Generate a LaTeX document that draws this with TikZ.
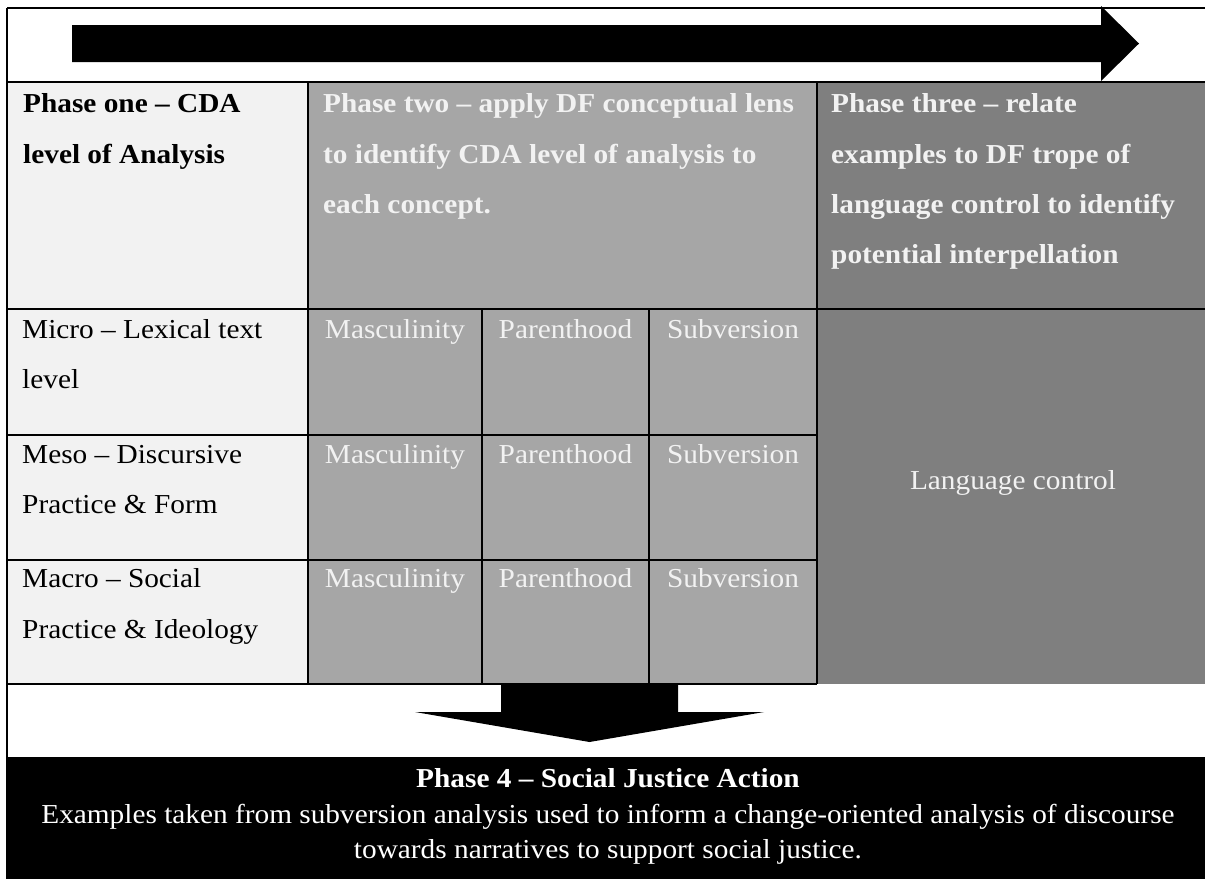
\documentclass[tikz,border=0pt]{standalone}
\usepackage{fontspec}
\setmainfont{Liberation Serif}[FakeStretch=1.07]
\definecolor{cone}{HTML}{F2F2F2}
\definecolor{ctwo}{HTML}{A6A6A6}
\definecolor{cthree}{HTML}{7F7F7F}
\definecolor{ctext}{HTML}{F2F2F2}
\newcommand{\bodyfont}{\fontsize{27.4}{34}\selectfont}
\begin{document}
\begin{tikzpicture}[x=1pt,y=-1pt,
  txt/.style={inner sep=0pt, font=\bodyfont, anchor=base west},
  btxt/.style={txt, font=\bodyfont\bfseries},
  wbtxt/.style={btxt, text=ctext},
  ctxt/.style={inner sep=0pt, font=\bodyfont, anchor=base, text=ctext},
  ftxt/.style={inner sep=0pt, font=\bodyfont, anchor=base, text=white},
  grid/.style={line width=2.8pt, black},
  thin/.style={line width=2.2pt, black}]
\useasboundingbox (0,0) rectangle (1205,879);
\clip (0,0) rectangle (1205,879);
% backgrounds
\fill[cone] (7,82) rectangle (308,684);
\fill[ctwo] (308,82) rectangle (817,684);
\fill[cthree] (817,82) rectangle (1215,684);
\fill[black] (7,757) rectangle (1215,879);
% top arrow
\fill[black] (72,25) -- (1101,25) -- (1101,6) -- (1139,43.5) -- (1101,81) -- (1101,62) -- (72,62) -- cycle;
% frame and grid
\draw[grid] (7,8) -- (1215,8);
\draw[grid] (7,8) -- (7,879);
\draw[grid] (7,82) -- (1215,82);
\draw[grid] (7,309) -- (1215,309);
\draw[grid] (7,435) -- (817,435);
\draw[grid] (7,560) -- (817,560);
\draw[grid] (7,684) -- (817,684);
\draw[grid] (308,82) -- (308,684);
\draw[grid] (817,82) -- (817,684);
\draw[thin] (482,309) -- (482,684);
\draw[thin] (649,309) -- (649,684);
% down arrow
\fill[black] (501,684) -- (678,684) -- (678,712) -- (764,712) -- (589.5,742) -- (415,712) -- (501,712) -- cycle;
% header texts
\node[btxt] (h1a) at (23,112) {Phase one – CDA};
\node[btxt] (h1b) at (23,163) {level of Analysis};
\node[wbtxt] (h2a) at (323,112) {Phase two – apply DF conceptual lens};
\node[wbtxt] (h2b) at (323,163) {to identify CDA level of analysis to};
\node[wbtxt] (h2c) at (323,213) {each concept.};
\node[wbtxt] (h3a) at (831,112) {Phase three – relate};
\node[wbtxt] (h3b) at (831,163) {examples to DF trope of};
\node[wbtxt] (h3c) at (831,213) {language control to identify};
\node[wbtxt] (h3d) at (831,263) {potential interpellation};
% row labels
\node[txt] (r1a) at (22,338) {Micro – Lexical text};
\node[txt] (r1b) at (22,388) {level};
\node[txt] (r2a) at (22,463) {Meso – Discursive};
\node[txt] (r2b) at (22,513) {Practice \& Form};
\node[txt] (r3a) at (22,587) {Macro – Social};
\node[txt] (r3b) at (22,638) {Practice \& Ideology};
% sub cells
\foreach \y/\r in {338/1,463/2,587/3}{
  \node[ctxt] (m\r) at (395,\y) {Masculinity};
  \node[ctxt] (p\r) at (565.5,\y) {Parenthood};
  \node[ctxt] (s\r) at (733,\y) {Subversion};
}
\node[ctxt] (lc) at (1013,489) {Language control};
% phase 4
\node[ftxt, font=\bodyfont\bfseries] (f1) at (608,787) {Phase 4 – Social Justice Action};
\node[ftxt] (f2) at (608,823) {Examples taken from subversion analysis used to inform a change-oriented analysis of discourse};
\node[ftxt] (f3) at (608,858) {towards narratives to support social justice.};
\end{tikzpicture}
\end{document}
